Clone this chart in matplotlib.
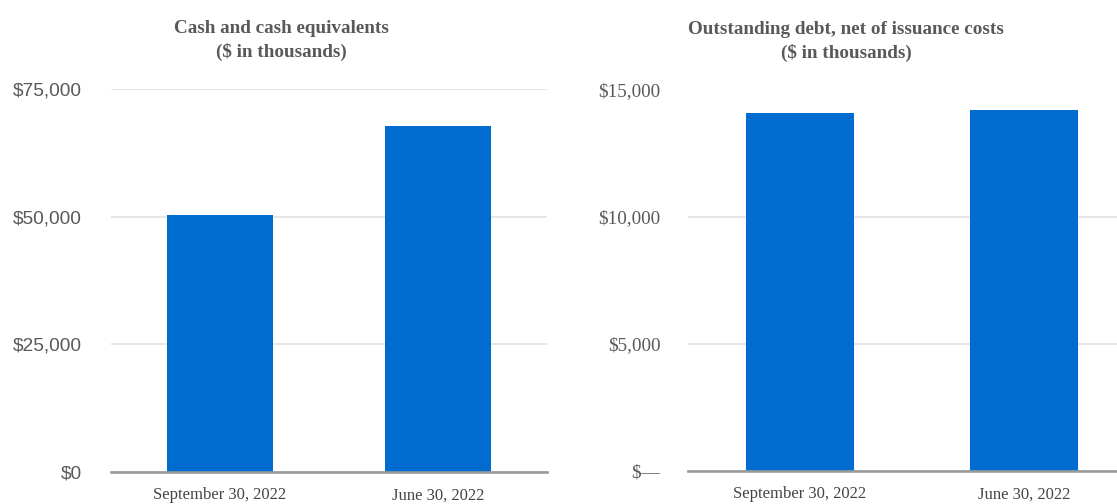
import matplotlib
matplotlib.use("Agg")
import matplotlib.pyplot as plt

# data (in $ thousands)
dates = ["September 30, 2022", "June 30, 2022"]
cash = [50300, 67800]
debt = [14080, 14200]

cash_ticks = [0, 25000, 50000, 75000]
cash_tick_labels = ["$0", "$25,000", "$50,000", "$75,000"]
debt_ticks = [0, 5000, 10000, 15000]
debt_tick_labels = ["$\u2014", "$5,000", "$10,000", "$15,000"]

BAR = "#006CD0"
GRID = "#e4e4e4"
AXLINE = "#9a9a9a"
TXT = "#595959"

fig = plt.figure(figsize=(11.17, 5.04), dpi=100)

ax1 = fig.add_axes([111 / 1117, 1 - 472 / 504, 436 / 1117, 383 / 504])
ax2 = fig.add_axes([688 / 1117, 1 - 471 / 504, 448 / 1117, 381.5 / 504])


def style(ax, ticks, labels, ylab_font, pad):
    ax.set_xlim(-0.5, 1.5)
    ax.set_ylim(0, ticks[-1])
    ax.set_yticks(ticks)
    ax.set_yticklabels(labels, family=ylab_font, fontsize=13.8, color=TXT)
    ax.set_xticks(range(len(dates)))
    ax.set_xticklabels(dates, family="Liberation Serif", fontsize=12, color="#444444")
    ax.tick_params(axis="y", length=0, pad=pad)
    ax.tick_params(axis="x", length=0, pad=11)
    for s in ["top", "right", "left"]:
        ax.spines[s].set_visible(False)
    ax.spines["bottom"].set_color(AXLINE)
    ax.spines["bottom"].set_linewidth(1.9)
    ax.spines["bottom"].set_zorder(3)
    ax.yaxis.grid(True, color=GRID, linewidth=1.3)
    ax.set_axisbelow(True)


ax1.bar(range(len(dates)), cash, width=0.49, color=BAR, zorder=2)
style(ax1, cash_ticks, cash_tick_labels, "Liberation Sans", 21)

ax2.bar(range(len(dates)), debt, width=0.482, color=BAR, zorder=2)
style(ax2, debt_ticks, debt_tick_labels, "Liberation Serif", 20)

# titles
tkw = dict(ha="center", va="baseline", family="Liberation Serif",
           fontweight="bold", fontsize=13.8, color=TXT)
fig.text(281 / 1117, 1 - 33 / 504, "Cash and cash equivalents", **tkw)
fig.text(281 / 1117, 1 - 57 / 504, "($ in thousands)", **tkw)
fig.text(846 / 1117, 1 - 34 / 504, "Outstanding debt, net of issuance costs", **tkw)
fig.text(846 / 1117, 1 - 58 / 504, "($ in thousands)", **tkw)

fig.savefig("out.png", dpi=100)
